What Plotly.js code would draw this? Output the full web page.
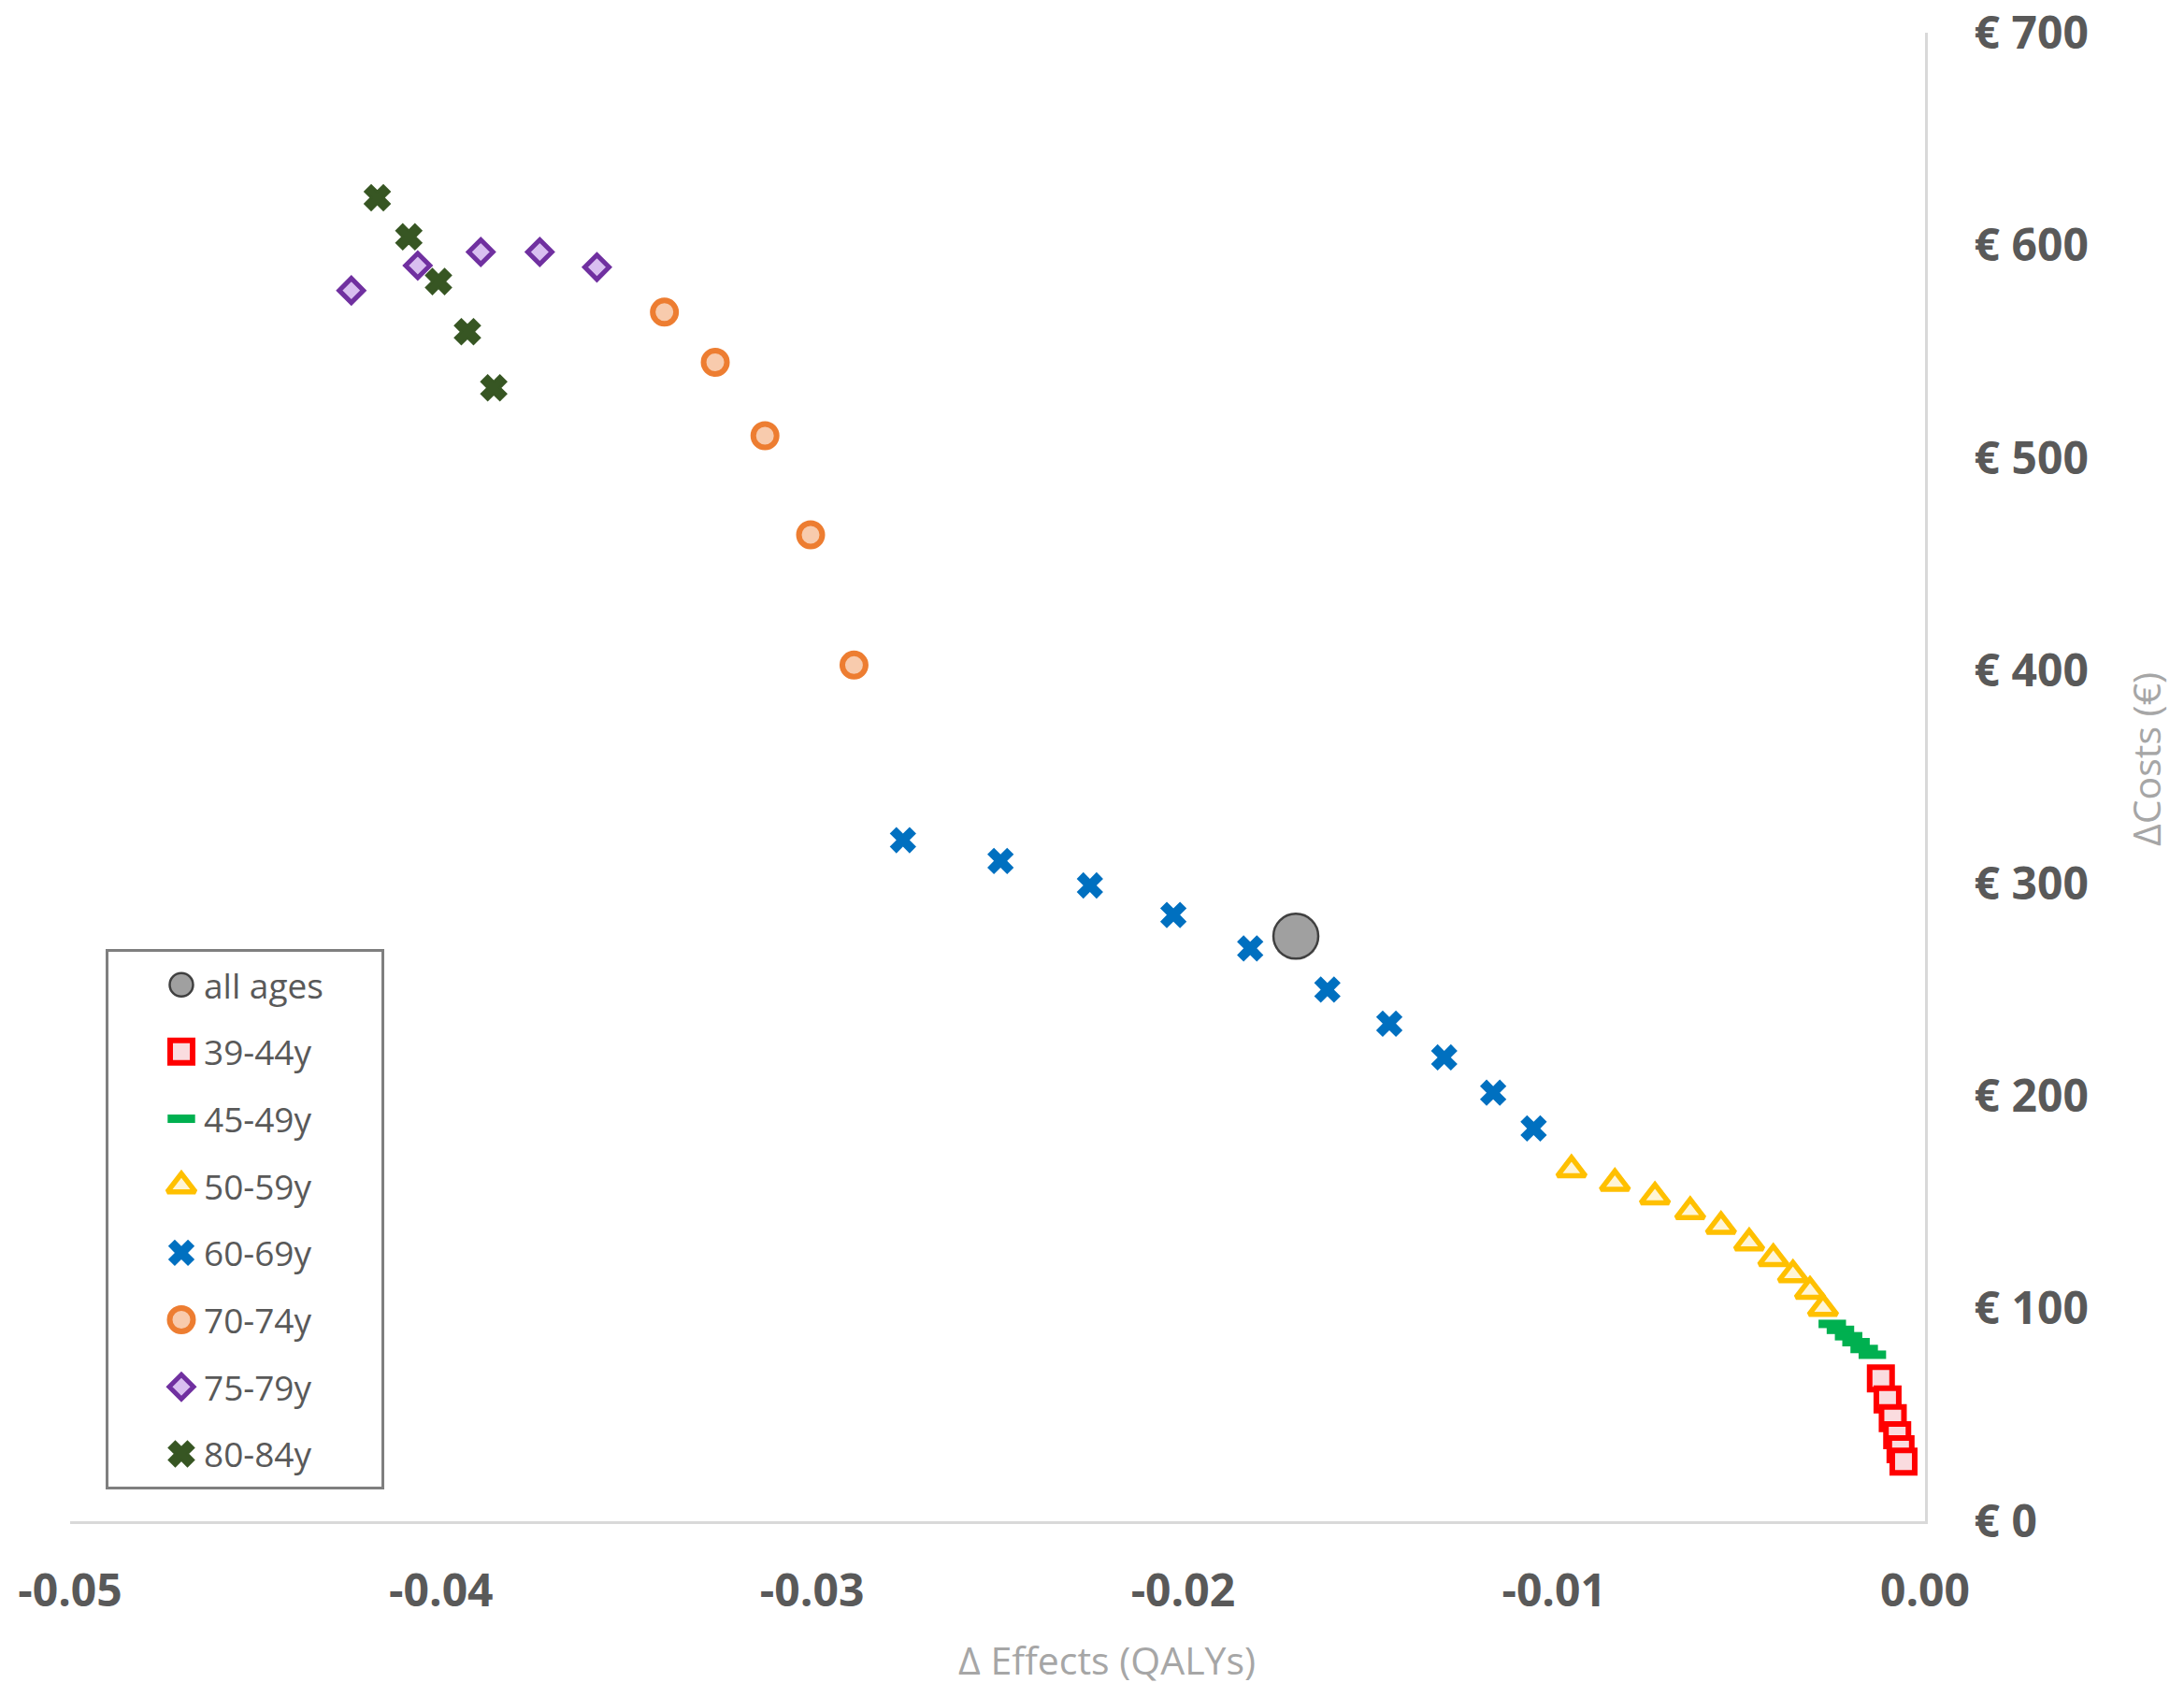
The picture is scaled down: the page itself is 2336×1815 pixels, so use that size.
<!DOCTYPE html>
<html>
<head>
<meta charset="utf-8">
<script src="https://cdn.plot.ly/plotly-3.0.1.min.js"></script>
<style>
  body { margin: 0; background: #fff; }
  #grafico { width: 2336px; height: 1815px; }
</style>
</head>
<body>
<div id="grafico"></div>
<script>
// age groups, in legend order
const groups = ['all ages', '39-44y', '45-49y', '50-59y', '60-69y', '70-74y', '75-79y', '80-84y'];

// Δ effects (QALYs) / Δ costs (€)
const effectsAll = [-0.01696];
const costsAll = [275.1];

const effects3944 = [-0.00119, -0.00101, -0.00087, -0.00075, -0.00066, -0.00058];
const costs3944 = [67.2, 57.3, 48.5, 40.5, 33.9, 28.0];

const effects4549 = [-0.00250, -0.00228, -0.00206, -0.00186, -0.00164, -0.00142];
const costs4549 = [92.8, 90.0, 87.0, 84.2, 81.0, 78.3];

const effects5059 = [-0.00953, -0.00836, -0.00728, -0.00633, -0.00550, -0.00474, -0.00409, -0.00356, -0.00310, -0.00275];
const costs5059 = [165.3, 158.9, 152.6, 145.6, 138.7, 130.9, 123.6, 116.0, 108.2, 100.1];

const effects6069 = [-0.02755, -0.02492, -0.02251, -0.02026, -0.01819, -0.01611, -0.01444, -0.01296, -0.01164, -0.01055];
const costs6069 = [320.3, 310.5, 299.0, 285.1, 269.4, 250.0, 234.0, 218.1, 201.5, 184.7];

const effects7074 = [-0.03398, -0.03261, -0.03127, -0.03004, -0.02887];
const costs7074 = [568.6, 545.0, 510.5, 463.9, 402.6];

const effects7579 = [-0.04242, -0.04063, -0.03893, -0.03734, -0.03580];
const costs7579 = [578.8, 590.5, 596.9, 596.9, 589.7];

const effects8084 = [-0.04172, -0.04087, -0.04007, -0.03929, -0.03858];
const costs8084 = [622.4, 604.0, 583.0, 559.4, 533.0];

// axis ticks
const xTickVals = [-0.05, -0.04, -0.03, -0.02, -0.01, 0];
const xTickText = ['-0.05', '-0.04', '-0.03', '-0.02', '-0.01', '0.00'];
const yTickVals = [0, 100, 200, 300, 400, 500, 600, 700];
const yTickText = ['€ 0', '€ 100', '€ 200', '€ 300', '€ 400', '€ 500', '€ 600', '€ 700'];

const xTitle = 'Δ Effects (QALYs)';
const yTitle = 'ΔCosts (€)';

const seriesData = [
  { x: effectsAll, y: costsAll },
  { x: effects3944, y: costs3944 },
  { x: effects4549, y: costs4549 },
  { x: effects5059, y: costs5059 },
  { x: effects6069, y: costs6069 },
  { x: effects7074, y: costs7074 },
  { x: effects7579, y: costs7579 },
  { x: effects8084, y: costs8084 }
];

// marker look per group (Excel-like)
const markerStyles = {
  'all ages': { symbol: 'circle', size: 48, legendSize: 25, color: '#A0A0A0', line: { color: '#404040', width: 2.5 } },
  '39-44y': { symbol: 'square', size: 24, color: '#FADCDF', line: { color: '#FF0000', width: 6 } },
  '45-49y': { symbol: 'line-ew', size: 21, color: '#00B050', line: { color: '#00B050', width: 9 } },
  '50-59y': { symbol: 'triangle-up', size: 26, color: '#FFF5D6', line: { color: '#FFC000', width: 5.5 } },
  '60-69y': { symbol: 'x', size: 25, color: '#0070C0', line: { color: '#0070C0', width: 0 } },
  '70-74y': { symbol: 'circle', size: 25, color: '#F8CBAD', line: { color: '#ED7D31', width: 6 } },
  '75-79y': { symbol: 'diamond', size: 20, color: '#D9BFF0', line: { color: '#7030A0', width: 5 } },
  '80-84y': { symbol: 'x', size: 23, color: '#375623', line: { color: '#375623', width: 2.5 } }
};

function markerFor(group, inLegend) {
  const s = markerStyles[group];
  return {
    symbol: s.symbol,
    size: inLegend && s.legendSize ? s.legendSize : s.size,
    color: s.color,
    line: s.line
  };
}

const traces = [];

groups.forEach((g, i) => {
  traces.push({
    type: 'scatter',
    mode: 'markers',
    name: g,
    x: seriesData[i].x,
    y: seriesData[i].y,
    marker: markerFor(g, false),
    hovertemplate: g + '<br>%{x:.4f} QALYs<br>€ %{y:.0f}<extra></extra>'
  });
});

// legend drawn as a small framed subplot so the symbols keep their size
const legendSymbolX = 0.267;
const legendTextX = 0.343;

groups.forEach((g, i) => {
  traces.push({
    type: 'scatter',
    mode: 'markers',
    x: [legendSymbolX],
    y: [i],
    xaxis: 'x2',
    yaxis: 'y2',
    marker: markerFor(g, true),
    hoverinfo: 'skip'
  });
});

const legendLabels = groups.map((g, i) => ({
  xref: 'x2',
  yref: 'y2',
  x: legendTextX,
  y: i,
  text: g,
  xanchor: 'left',
  yanchor: 'middle',
  showarrow: false,
  font: { size: 37, color: '#595959' }
}));

const frame = {
  showgrid: false,
  zeroline: false,
  showticklabels: false,
  ticks: '',
  showline: true,
  mirror: true,
  linecolor: '#7F7F7F',
  linewidth: 2.5,
  fixedrange: true
};

const layout = {
  width: 2336,
  height: 1815,
  margin: { l: 75, r: 277, t: 35, b: 188 },
  paper_bgcolor: '#ffffff',
  plot_bgcolor: 'rgba(0,0,0,0)',
  showlegend: false,
  font: { family: '"Open Sans", "Noto Sans", sans-serif', color: '#595959' },
  xaxis: {
    range: [-0.05, 0],
    tickmode: 'array',
    tickvals: xTickVals,
    ticktext: xTickText,
    ticks: '',
    ticklabelstandoff: 30,
    tickfont: { size: 48, weight: 700, color: '#595959' },
    showgrid: false,
    zeroline: false,
    showline: true,
    linecolor: '#D9D9D9',
    linewidth: 3
  },
  yaxis: {
    range: [0, 700],
    side: 'right',
    tickmode: 'array',
    tickvals: yTickVals,
    ticktext: yTickText,
    ticks: '',
    ticklabelstandoff: 40,
    tickfont: { size: 48, weight: 700, color: '#595959' },
    showgrid: false,
    zeroline: false,
    showline: true,
    linecolor: '#D9D9D9',
    linewidth: 3
  },
  xaxis2: Object.assign({ domain: [0.0207, 0.1678], anchor: 'y2', range: [0, 1] }, frame),
  yaxis2: Object.assign({ domain: [0.0232, 0.3825], anchor: 'x2', range: [7.49, -0.49] }, frame),
  annotations: [
    {
      xref: 'paper', yref: 'paper',
      x: 0.559, y: -0.093,
      text: xTitle,
      showarrow: false,
      xanchor: 'center', yanchor: 'middle',
      font: { size: 41, color: '#A6A6A6' }
    },
    {
      xref: 'paper', yref: 'paper',
      x: 1.119, y: 0.512,
      text: yTitle,
      textangle: -90,
      showarrow: false,
      xanchor: 'center', yanchor: 'middle',
      font: { size: 41, color: '#A6A6A6' }
    }
  ].concat(legendLabels)
};

const config = { displayModeBar: false, responsive: false };

Plotly.newPlot('grafico', traces, layout, config);
</script>
</body>
</html>
